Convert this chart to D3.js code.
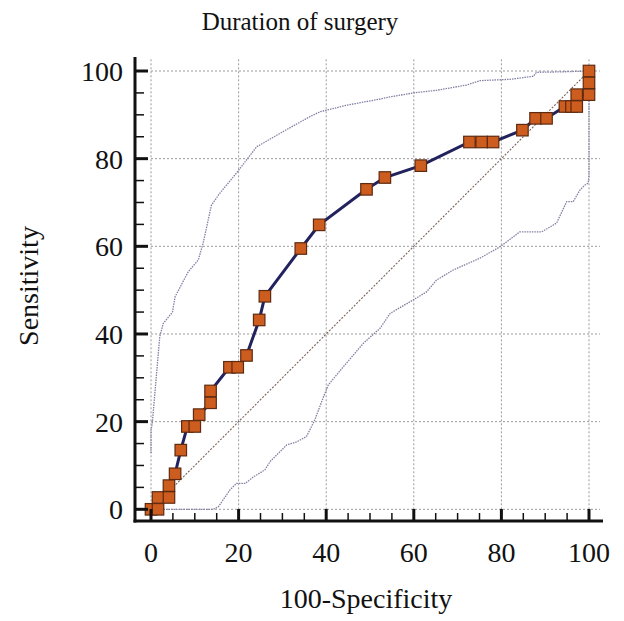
<!DOCTYPE html>
<html>
<head>
<meta charset="utf-8">
<script src="https://cdn.jsdelivr.net/npm/d3@7"></script>
<style>
  body { margin: 0; background: #fff; }
  text { font-family: "Liberation Serif", "Times New Roman", serif; fill: #111; }
</style>
</head>
<body>
<div id="chart"></div>
<script>
'use strict';

// ROC points (100-Specificity, Sensitivity)
const rocX = [0, 1.6, 1.6, 4.1, 4.1, 5.5, 6.8, 8.3, 10, 11, 13.6, 13.6, 17.9, 19.8, 21.8, 24.7, 26,
  34.2, 38.4, 49.2, 53.4, 61.6, 72.7, 75.5, 78.1, 84.8, 87.8, 90.3, 94.5, 96, 97.2, 97.2, 100, 100, 100];
const rocY = [0, 0, 2.7, 2.7, 5.4, 8.1, 13.5, 18.9, 18.9, 21.6, 24.3, 27, 32.4, 32.4, 35.1, 43.2, 48.6,
  59.5, 64.9, 73, 75.7, 78.4, 83.8, 83.8, 83.8, 86.5, 89.2, 89.2, 91.9, 91.9, 91.9, 94.6, 94.6, 97.3, 100];

// confidence bounds
const upperX = [0, 0, 0.3, 2, 2.8, 4.9, 5.5, 8.5, 10.8, 11.9, 13.8, 15.7, 19.5, 24.1, 30.2, 36.3, 38.6,
  44.7, 52.3, 54.6, 59.9, 65.2, 72.1, 75.1, 82, 87.3, 88, 93.4, 100];
const upperY = [12.8, 18, 19.7, 39.4, 42.4, 45, 48.5, 54.2, 56.9, 60.7, 69.4, 72.1, 76.7, 82.7, 86.2, 89.6, 90.7,
  92.2, 93.6, 94.1, 95, 95.6, 96.8, 97.8, 98.1, 98.8, 99.7, 99.8, 100];
const lowerX = [0, 14.2, 15.4, 18, 19.5, 21.5, 23.4, 26, 27.2, 31, 33.3, 35.5, 37.4, 39.4, 40.5, 43.9, 48.5,
  52.3, 54.6, 59.9, 62.9, 65.2, 69, 75.1, 79.7, 84.2, 89.2, 92.6, 94.9, 96.4, 97.9, 99.1, 99.8, 100, 100];
const lowerY = [0, 0, 0.6, 4.4, 5.9, 5.9, 7.4, 9, 10.9, 14.7, 15.4, 16.6, 20.4, 25.7, 28.4, 32.5, 37.9,
  41.3, 44.7, 47.8, 49.6, 52.3, 54.6, 57.3, 59.9, 63.3, 63.3, 65.3, 70.2, 70.2, 72.8, 74, 74.4, 76, 100];

const ticks = [0, 20, 40, 60, 80, 100];
const minorTicks = d3.range(0, 101, 5).filter(d => d % 20 !== 0);

const width = 624, height = 621;
const svg = d3.select('#chart').append('svg')
  .attr('width', width)
  .attr('height', height);

const x = d3.scaleLinear().domain([0, 100]).range([151, 589]);
const y = d3.scaleLinear().domain([0, 100]).range([509.3, 71]);

// grid
const grid = svg.append('g').attr('stroke', '#9a9a9a').attr('stroke-width', 1).attr('stroke-dasharray', '2,2');
grid.selectAll('.vg').data(ticks).enter().append('line')
  .attr('x1', d => x(d)).attr('x2', d => x(d))
  .attr('y1', y(0)).attr('y2', y(103));
grid.selectAll('.hg').data(ticks).enter().append('line')
  .attr('y1', d => y(d)).attr('y2', d => y(d))
  .attr('x1', x(0)).attr('x2', x(102.5));

// diagonal
svg.append('line')
  .attr('x1', x(0)).attr('y1', y(0)).attr('x2', x(100)).attr('y2', y(100))
  .attr('stroke', '#7a6458').attr('stroke-width', 1.1).attr('stroke-dasharray', '2,1.5');

// confidence bounds
const line = d3.line().x(d => x(d[0])).y(d => y(d[1]));
[[upperX, upperY], [lowerX, lowerY]].forEach(([xs, ys]) => {
  svg.append('path')
    .datum(xs.map((v, i) => [v, ys[i]]))
    .attr('d', line)
    .attr('fill', 'none')
    .attr('stroke', '#8080a4')
    .attr('stroke-width', 1.3)
    .attr('stroke-dasharray', '1.5,1');
});

// ROC curve
const roc = rocX.map((v, i) => [v, rocY[i]]);
svg.append('path')
  .datum(roc)
  .attr('d', line)
  .attr('fill', 'none')
  .attr('stroke', '#22225e')
  .attr('stroke-width', 3);

const sz = 11.5;
svg.selectAll('.pt').data(roc).enter().append('rect')
  .attr('x', d => x(d[0]) - sz / 2)
  .attr('y', d => y(d[1]) - sz / 2)
  .attr('width', sz).attr('height', sz)
  .attr('fill', '#cd5c1f')
  .attr('stroke', '#5e2a10')
  .attr('stroke-width', 1.2);

// axes
const axisX = 135, axisY = 521;
svg.append('line')
  .attr('x1', axisX).attr('x2', axisX).attr('y1', y(103.2)).attr('y2', axisY + 1.5)
  .attr('stroke', '#111').attr('stroke-width', 3);
svg.append('line')
  .attr('x1', axisX - 1.5).attr('x2', x(103.2)).attr('y1', axisY).attr('y2', axisY)
  .attr('stroke', '#111').attr('stroke-width', 3);

const tk = svg.append('g').attr('stroke', '#111');
tk.selectAll('.xt').data(ticks).enter().append('line')
  .attr('x1', d => x(d)).attr('x2', d => x(d)).attr('y1', axisY).attr('y2', axisY - 12)
  .attr('stroke-width', 3);
tk.selectAll('.xm').data(minorTicks).enter().append('line')
  .attr('x1', d => x(d)).attr('x2', d => x(d)).attr('y1', axisY).attr('y2', axisY - 8)
  .attr('stroke-width', 1.5);
tk.selectAll('.yt').data(ticks).enter().append('line')
  .attr('y1', d => y(d)).attr('y2', d => y(d)).attr('x1', axisX).attr('x2', axisX + 13)
  .attr('stroke-width', 3);
tk.selectAll('.ym').data(minorTicks).enter().append('line')
  .attr('y1', d => y(d)).attr('y2', d => y(d)).attr('x1', axisX).attr('x2', axisX + 9)
  .attr('stroke-width', 1.5);

// tick labels
svg.selectAll('.xl').data(ticks).enter().append('text')
  .attr('x', d => x(d)).attr('y', 562)
  .attr('text-anchor', 'middle')
  .style('font-size', '28px')
  .text(d => d);
svg.selectAll('.yl').data(ticks).enter().append('text')
  .attr('x', 123).attr('y', d => y(d) + 10)
  .attr('text-anchor', 'end')
  .style('font-size', '28px')
  .text(d => d);

// titles
svg.append('text')
  .attr('x', 300).attr('y', 30)
  .attr('text-anchor', 'middle')
  .style('font-size', '25px')
  .text('Duration of surgery');
svg.append('text')
  .attr('x', 366).attr('y', 608)
  .attr('text-anchor', 'middle')
  .style('font-size', '28px')
  .text('100-Specificity');
svg.append('text')
  .attr('transform', 'translate(38,286) rotate(-90)')
  .attr('text-anchor', 'middle')
  .style('font-size', '28px')
  .text('Sensitivity');
</script>
</body>
</html>
